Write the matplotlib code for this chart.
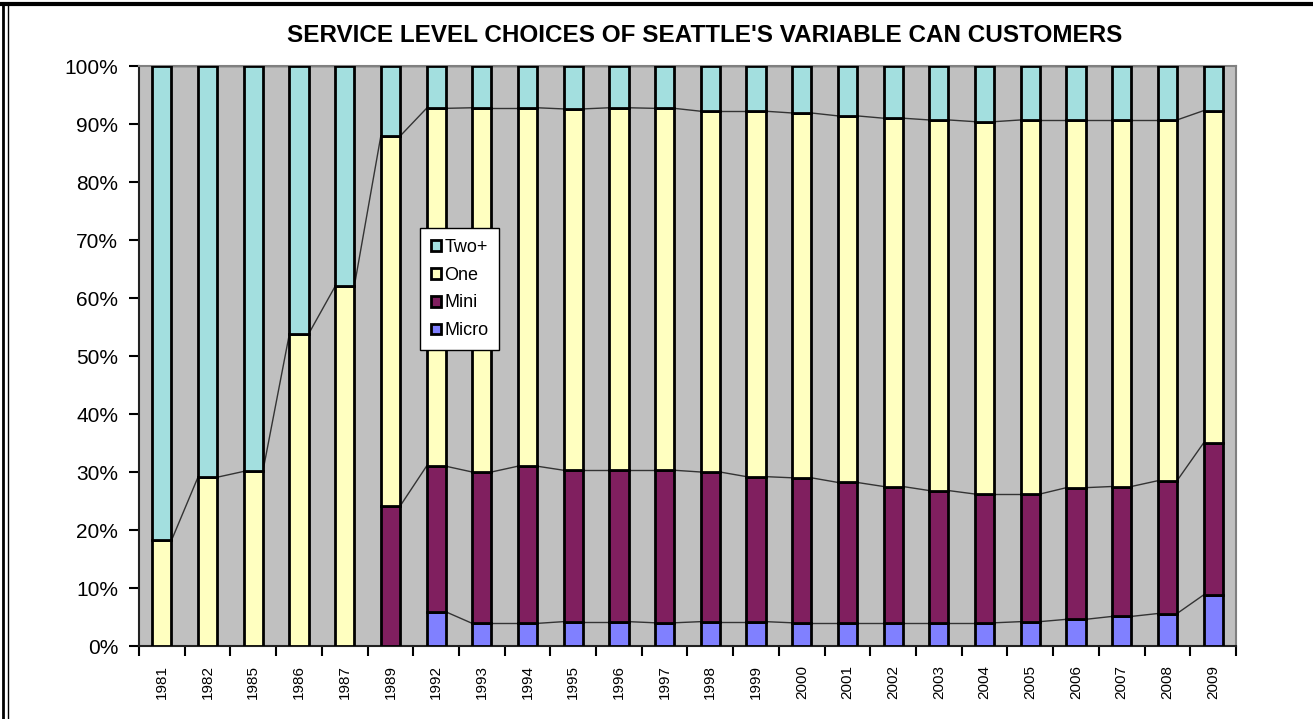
import numpy as np
import matplotlib
matplotlib.use("Agg")
import matplotlib.pyplot as plt
from matplotlib.lines import Line2D

plt.rcParams['font.family'] = ['Liberation Sans', 'DejaVu Sans']

# data (percent of customers per service level)
years = ["1981", "1982", "1985", "1986", "1987", "1989", "1992", "1993", "1994",
         "1995", "1996", "1997", "1998", "1999", "2000", "2001", "2002", "2003",
         "2004", "2005", "2006", "2007", "2008", "2009"]
micro = [0, 0, 0, 0, 0, 0, 5.9, 3.9, 3.9, 4.2, 4.2, 4.0, 4.2, 4.2, 4.0, 4.0,
         4.0, 4.0, 4.0, 4.2, 4.6, 5.1, 5.6, 8.8]
mini = [0, 0, 0, 0, 0, 24.1, 25.1, 26.1, 27.1, 26.1, 26.1, 26.3, 25.8, 25.0,
        25.0, 24.2, 23.5, 22.8, 22.2, 22.0, 22.7, 22.4, 22.9, 26.2]
one = [18.2, 29.1, 30.1, 53.8, 62.0, 63.8, 61.7, 62.8, 61.8, 62.3, 62.5, 62.4,
       62.2, 63.0, 62.9, 63.2, 63.5, 63.9, 64.2, 64.5, 63.4, 63.2, 62.2, 57.3]
two = [81.8, 70.9, 69.9, 46.2, 38.0, 12.1, 7.3, 7.2, 7.2, 7.4, 7.2, 7.3, 7.8,
       7.8, 8.1, 8.6, 9.0, 9.3, 9.6, 9.3, 9.3, 9.3, 9.3, 7.7]

series = [("Micro", micro, "#8080FF"), ("Mini", mini, "#801F5F"),
          ("One", one, "#FFFFC0"), ("Two+", two, "#A3DFDF")]

fig = plt.figure(figsize=(13.13, 7.19), dpi=100)
ax = fig.add_axes([139 / 1313, 1 - 646 / 719, 1097 / 1313, 580 / 719])
ax.set_facecolor("#C0C0C0")

x = np.arange(len(years))
width = 0.42
bottom = np.zeros(len(years))
handles = {}
for name, vals, color in series:
    vals = np.array(vals, dtype=float)
    bars = ax.bar(x, vals, width, bottom=bottom, color=color, edgecolor="black",
                  linewidth=2, label=name, zorder=3)
    handles[name] = bars
    top = bottom + vals
    # series lines between neighbouring bars
    for i in range(len(years) - 1):
        if vals[i] > 0 and vals[i + 1] > 0:
            ax.plot([x[i] + width / 2, x[i + 1] - width / 2], [top[i], top[i + 1]],
                    color="#333333", linewidth=1, zorder=2)
    bottom = top

ax.set_xlim(-0.5, len(years) - 0.5)
ax.set_ylim(0, 100)
ax.set_yticks(np.arange(0, 101, 10))
ax.set_yticklabels([f"{v}%" for v in range(0, 101, 10)], fontsize=15)
ax.set_xticks(x)
ax.set_xticklabels(years, rotation=90, fontsize=11)
ax.set_xticks(np.arange(-0.5, len(years), 1), minor=True)
ax.tick_params(axis="x", which="major", length=0, pad=14)
ax.tick_params(axis="x", which="minor", length=7, width=1.5, direction="out")
ax.tick_params(axis="y", length=7, width=1.5, direction="out", pad=8)

for side in ["left", "bottom"]:
    ax.spines[side].set_color("#222222")
    ax.spines[side].set_linewidth(1.5)
for side in ["top", "right"]:
    ax.spines[side].set_color("#808080")
    ax.spines[side].set_linewidth(1.5)

leg = ax.legend([handles[n] for n in ["Two+", "One", "Mini", "Micro"]],
                ["Two+", "One", "Mini", "Micro"],
                loc="upper left", bbox_to_anchor=(0.256, 0.7207),
                borderaxespad=0, fontsize=13, handlelength=0.55, handleheight=0.55,
                handletextpad=0.2, labelspacing=0.6, borderpad=0.6,
                fancybox=False, framealpha=1, edgecolor="black")
leg.get_frame().set_linewidth(1)
leg.set_zorder(5)

fig.text(705 / 1313, 1 - 35 / 719, "SERVICE LEVEL CHOICES OF SEATTLE'S VARIABLE CAN CUSTOMERS",
         ha="center", va="center", fontsize=17.5, fontweight="bold")

# outer frame
fig.add_artist(Line2D([0, 1], [1 - 4 / 719, 1 - 4 / 719], transform=fig.transFigure,
                      color="black", linewidth=3))
fig.add_artist(Line2D([3 / 1313, 3 / 1313], [0, 1 - 4 / 719], transform=fig.transFigure,
                      color="black", linewidth=2))
fig.add_artist(Line2D([8 / 1313, 8 / 1313], [0, 1 - 4 / 719], transform=fig.transFigure,
                      color="black", linewidth=1))

fig.savefig("out.png", dpi=100)
